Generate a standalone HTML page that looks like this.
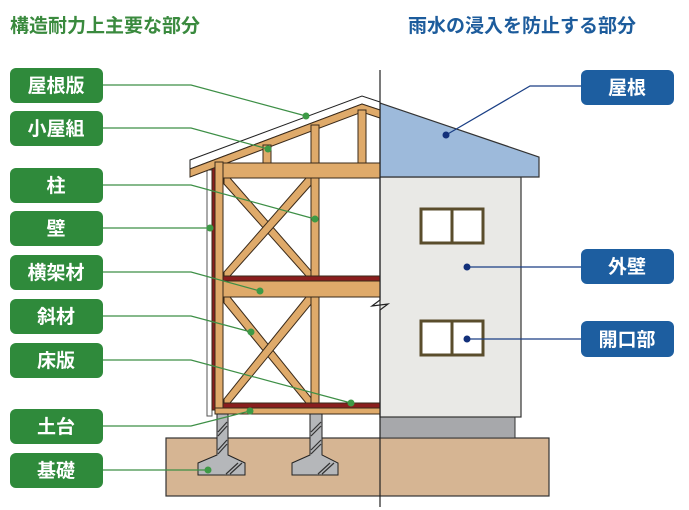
<!DOCTYPE html><html><head><meta charset="utf-8"><style>
body{margin:0;background:#fff}
svg{display:block}
text{font-family:"Liberation Sans","Noto Sans CJK JP",sans-serif;font-weight:bold}
</style></head><body>
<svg width="689" height="510" viewBox="0 0 689 510" xmlns="http://www.w3.org/2000/svg">
<text x="10" y="32" font-size="19" fill="#3a8a3e">構造耐力上主要な部分</text>
<text x="408" y="32" font-size="19" fill="#1d5c9c">雨水の浸入を防止する部分</text>

<rect x="166" y="438" width="383" height="58" fill="#d6b593" stroke="#333" stroke-width="1.2"/>
<rect x="380" y="417" width="135" height="21" fill="#a7a8ab" stroke="#333" stroke-width="1"/>
<rect x="380" y="177" width="141" height="240" fill="#e9e9e6" stroke="#333" stroke-width="1.2"/>
<polygon points="380,103 539,157 539,177 380,177" fill="#9dbadb" stroke="#333" stroke-width="1.2"/>
<g fill="#fff" stroke="#5a4d2c" stroke-width="3">
<rect x="421" y="209" width="62" height="34"/><line x1="452" y1="209" x2="452" y2="243"/>
<rect x="421" y="321" width="62" height="34"/><line x1="452" y1="321" x2="452" y2="355"/>
</g>

<g stroke="#3a2a1a" stroke-width="1">
<rect x="207" y="170" width="5" height="246" fill="#fff" stroke="#555"/>
<rect x="212" y="165" width="4" height="245" fill="#8a1e1e"/>
<polygon points="190,160 362,96 380,102 380,110 362,104 190,169" fill="#fff" stroke="#222"/>
<polygon points="190,169 362,104 380,110 380,118 362,112 190,177" fill="#dfaa6a"/>
<rect x="263" y="145" width="8" height="19" fill="#dfaa6a"/>
<rect x="358" y="110" width="8" height="54" fill="#dfaa6a"/>
<g fill="#dfaa6a">
<polygon points="224,178 230,178 312,272 312,276 306,276 224,184"/>
<polygon points="312,178 306,178 224,272 224,276 230,276 312,184"/>
<polygon points="224,297 230,297 312,399 312,403 306,403 224,303"/>
<polygon points="312,297 306,297 224,399 224,403 230,403 312,303"/>
</g>
<rect x="215" y="162" width="8" height="252" fill="#dfaa6a"/>
<rect x="311" y="125" width="8" height="289" fill="#dfaa6a"/>
<rect x="223" y="163" width="157" height="15" fill="#dfaa6a"/>
<rect x="223" y="276" width="157" height="5" fill="#8a1e1e"/>
<rect x="223" y="281" width="157" height="16" fill="#dfaa6a"/>
<rect x="223" y="403" width="157" height="5" fill="#8a1e1e"/>
<rect x="215" y="408" width="165" height="6" fill="#dfaa6a"/>
<g fill="#b5b7ba" stroke="#222">
<polygon points="217,414 228,414 228,455 245,463 245,475 198,475 198,463 217,455"/>
<polygon points="310,414 322,414 322,455 338,463 338,475 292,475 292,463 310,455"/>
</g>
<g stroke="#333" stroke-width="1.2">
<line x1="218" y1="432" x2="227" y2="422"/><line x1="218" y1="436" x2="227" y2="426"/>
<line x1="218" y1="450" x2="227" y2="440"/><line x1="218" y1="454" x2="227" y2="444"/>
<line x1="226" y1="474" x2="238" y2="463"/><line x1="230" y1="474" x2="242" y2="463"/>
<line x1="311" y1="432" x2="321" y2="422"/><line x1="311" y1="436" x2="321" y2="426"/>
<line x1="311" y1="450" x2="321" y2="440"/><line x1="311" y1="454" x2="321" y2="444"/>
<line x1="318" y1="474" x2="330" y2="463"/><line x1="322" y1="474" x2="334" y2="463"/>
</g>
</g>
<polyline points="380,70 380,300 372,306 388,304 380,310 380,507" fill="none" stroke="#222" stroke-width="1.2"/>

<g fill="#2f8a3b">
<rect x="10" y="68" width="93" height="35" rx="6"/>
<rect x="10" y="111" width="93" height="35" rx="6"/>
<rect x="10" y="168" width="93" height="35" rx="6"/>
<rect x="10" y="211" width="93" height="35" rx="6"/>
<rect x="10" y="255" width="93" height="35" rx="6"/>
<rect x="10" y="299" width="93" height="35" rx="6"/>
<rect x="10" y="343" width="93" height="35" rx="6"/>
<rect x="10" y="409" width="93" height="35" rx="6"/>
<rect x="10" y="453" width="93" height="35" rx="6"/>
</g>
<g fill="#fff" font-size="19" text-anchor="middle">
<text x="56" y="92">屋根版</text><text x="56" y="135">小屋組</text>
<text x="56" y="192">柱</text><text x="56" y="235">壁</text>
<text x="56" y="279">横架材</text><text x="56" y="323">斜材</text>
<text x="56" y="367">床版</text><text x="56" y="433">土台</text>
<text x="56" y="477">基礎</text>
</g>
<g fill="none" stroke="#3d8f46" stroke-width="1.2">
<polyline points="103,85 191,85 306,116"/>
<polyline points="103,128 191,128 268,149"/>
<polyline points="103,185 191,185 315,219"/>
<polyline points="103,228 210,228"/>
<polyline points="103,272 191,272 260,291"/>
<polyline points="103,316 191,316 251,332"/>
<polyline points="103,360 191,360 351,403"/>
<polyline points="103,426 191,426 250,411"/>
<polyline points="103,470 208,470"/>
</g>
<g fill="#3d9a46">
<circle cx="306" cy="116" r="3.5"/><circle cx="268" cy="149" r="3.5"/>
<circle cx="315" cy="219" r="3.5"/><circle cx="210" cy="228" r="3.5"/>
<circle cx="260" cy="291" r="3.5"/><circle cx="251" cy="332" r="3.5"/>
<circle cx="351" cy="403" r="3.5"/><circle cx="250" cy="411" r="3.5"/>
<circle cx="208" cy="470" r="3.5"/>
</g>

<g fill="#1d5ea0">
<rect x="581" y="70" width="93" height="35" rx="6"/>
<rect x="581" y="249" width="93" height="35" rx="6"/>
<rect x="581" y="321" width="93" height="36" rx="6"/>
</g>
<g fill="#fff" font-size="19" text-anchor="middle">
<text x="627" y="94">屋根</text><text x="627" y="273">外壁</text><text x="627" y="346">開口部</text>
</g>
<g fill="none" stroke="#1a3f85" stroke-width="1.2">
<polyline points="581,86 530,86 446,135"/>
<polyline points="581,267 467,267"/>
<polyline points="581,339 467,339"/>
</g>
<g fill="#12307a">
<circle cx="446" cy="135" r="3.5"/><circle cx="467" cy="267" r="3.5"/><circle cx="467" cy="339" r="3.5"/>
</g>
</svg>
</body></html>
